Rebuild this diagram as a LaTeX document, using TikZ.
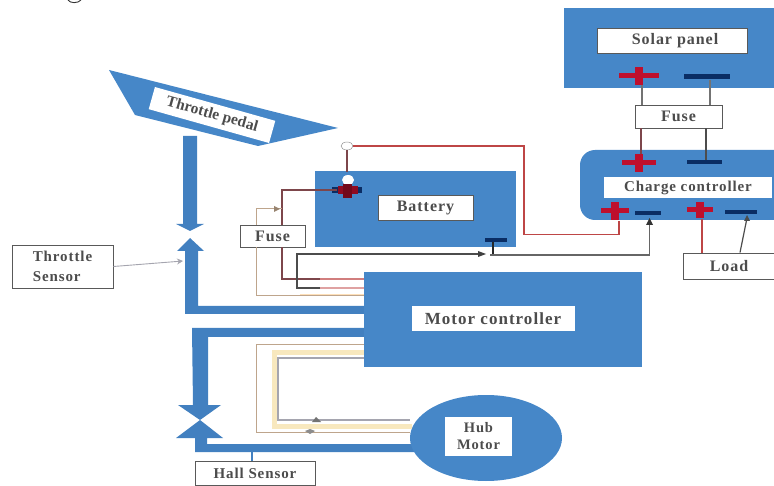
\documentclass[tikz,border=0pt]{standalone}
\usepackage{fontspec}
\setmainfont{Liberation Serif}
\newfontfamily\spacedfont[LetterSpace=6]{Liberation Serif}
\usetikzlibrary{arrows.meta,shapes.geometric}
\definecolor{panelblue}{RGB}{70,135,200}
\definecolor{flowblue}{RGB}{66,128,192}
\definecolor{navy}{RGB}{10,45,100}
\definecolor{wired}{RGB}{190,70,70}
\definecolor{wirebrown}{RGB}{125,70,75}
\definecolor{wiretan}{RGB}{190,165,140}
\definecolor{paleyellow}{RGB}{248,232,190}
\definecolor{wiregray}{RGB}{165,165,175}
\definecolor{plusred}{RGB}{190,15,45}
\newcommand{\lblf}[2]{\spacedfont\bfseries\fontsize{#1}{#2}\selectfont}
\tikzset{
  x=1pt,y=-1pt,
  panel/.style={fill=panelblue,draw=none},
  labelbox/.style={fill=white,draw=black!65,line width=0.9pt,font=\lblf{16}{17},text=black!70,inner sep=0pt},
  wirea/.style={draw=wirebrown,line width=1.3pt},
  wireb/.style={draw=wired,line width=1.1pt},
  wirec/.style={draw=black!70,line width=1.2pt},
  wired2/.style={draw=wiretan,line width=0.9pt},
  flow/.style={fill=flowblue,draw=none},
  thintip/.style={-{Stealth[length=6pt,width=6pt]}}
}
\newcommand{\plusmark}[4]{% x, y, half width, half height
  \fill[plusred] (#1-#3,#2-2.5) rectangle (#1+#3,#2+2.5);
  \fill[plusred] (#1-4,#2-#4) rectangle (#1+4,#2+#4);
}
\begin{document}
\begin{tikzpicture}
\useasboundingbox (0,0) rectangle (774,486);
\clip (0,0) rectangle (774,486);
\fill[white] (0,0) rectangle (774,486);
\draw[black!80,line width=0.9pt] (68,0) .. controls (70,3.5) and (78,3.5) .. (81,0);

% throttle pedal
\fill[panelblue] (109,70) -- (135,115) -- (258,146) -- (338,128) -- cycle;
\node[labelbox,draw=none,minimum width=125pt,minimum height=23pt,rotate=-15.7,font=\rmfamily\bfseries\fontsize{15.5}{16}\selectfont] (pedal) at (212,115) {Throttle pedal};

% big arrows on the left
\fill[flow] (183,136) rectangle (197,224) (176,224) -- (204,224) -- (190,231) -- cycle;
\fill[flow] (190,238) -- (204,251) -- (198,251) -- (198,306) -- (365,306) -- (365,314) -- (185,314) -- (185,251) -- (177,251) -- cycle;
\fill[flow] (365,328) -- (192,328) -- (193,405) -- (178,405) -- (200,420) -- (221,405) -- (208,405) -- (208,337) -- (365,337) -- cycle;
\fill[flow] (200,420) -- (223,438) -- (207,438) -- (207,444) -- (425,444) -- (425,452) -- (195,452) -- (195,438) -- (176,438) -- cycle;

% boxes
\fill[panel] (315,171) rectangle (516,247);
\fill[panel] (364,272) rectangle (642,367);
\fill[panel] (564,8) rectangle (774,88);
\fill[panel,rounded corners=15pt] (580,150) rectangle (790,220);
\fill[panel] (486,438) ellipse [x radius=76pt,y radius=43pt];

\node[labelbox,minimum width=95pt,minimum height=25pt] (battery) at (425.5,207.5) {Battery\hspace{8pt}};
\node[labelbox,minimum width=150pt,minimum height=25pt] (solar) at (672,40.5) {\hspace{6pt}Solar panel};
\node[labelbox,draw=none,minimum width=168pt,minimum height=21pt,font=\lblf{15}{16}] (charge) at (688,187.5) {Charge controller\hspace{16pt}};
\node[labelbox,minimum width=87pt,minimum height=23pt] (fusetop) at (678.5,116.5) {Fuse\hspace{27pt}};
\node[labelbox,minimum width=65pt,minimum height=22pt] (fuseleft) at (272.5,236) {Fuse};
\node[labelbox,minimum width=91pt,minimum height=26pt] (load) at (729,266) {Load};
\node[labelbox,draw=none,minimum width=163pt,minimum height=25pt,font=\lblf{17}{18}] (motor) at (493,319) {Motor controller};
\node[labelbox,draw=none,minimum width=67pt,minimum height=39pt,align=center,font=\lblf{14.5}{17}] (hub) at (478.5,436.5) {Hub\\Motor};
\node[labelbox,minimum width=120pt,minimum height=24pt,font=\lblf{15}{16}] (hall) at (255,473) {Hall Sensor};
\node[labelbox,minimum width=101pt,minimum height=43pt,align=left,font=\lblf{15}{20}] (throttle) at (62.5,266.5) {Throttle\\Sensor};

% solar wiring
\draw[draw=black!55,line width=1.3pt] (642,80) -- (642,0 |- fusetop.north);
\draw[draw=black!55,line width=1.3pt] (710,80) -- (710,0 |- fusetop.north);
\draw[wirea] (641,0 |- fusetop.south) -- (641,160);
\draw[draw=black!70,line width=1.3pt] (706,0 |- fusetop.south) -- (706,160);

% terminals
\plusmark{639}{76}{20}{9}
\fill[navy] (684,74.5) rectangle (730,79.5);
\plusmark{639}{163}{17}{9}
\fill[navy] (687,160.5) rectangle (722,164.5);
\plusmark{615}{211}{14}{9}
\fill[navy] (635,211) rectangle (661,215);
\plusmark{700}{210}{13}{8}
\fill[navy] (725,210) rectangle (757,214);

% battery plus with cap
\fill[white] (348,180) ellipse [x radius=6pt,y radius=5pt];
\fill[navy] (332,187) rectangle (362,193);
\fill[plusred!75!black] (338,186) rectangle (358,194);
\fill[plusred!60!black] (343,184) rectangle (352,198);
\node[draw=black!50,fill=white,ellipse,minimum width=12pt,minimum height=8pt,inner sep=0pt] (cap) at (347,146) {};
\draw[draw=wirebrown,line width=1.2pt] (cap) -- (347,172);
\draw[wireb] (cap) -- (524,146) -- (524,234.5) -- (619,234.5) -- (619,221);

% battery to fuse and motor controller
\draw[wirea] (337,190) -- (282,190) -- (282,0 |- fuseleft.north);
\draw[draw=wiretan,line width=1pt] (282,209) -- (256,209) -- (256,0 |- fuseleft.north);
\fill[wiretan!80!black] (274,206) -- (280,209) -- (274,212) -- cycle;
\draw[wirea] (282,0 |- fuseleft.south) -- (282,279) -- (320,279);
\draw[draw=wired!70,line width=1.3pt] (320,279) -- (364,279);
\draw[draw=paleyellow!60!orange!50,line width=2pt] (300,295) -- (364,295);
\draw[wired2] (256,0 |- fuseleft.south) -- (256,295) -- (364,295);
\draw[draw=wired!50,line width=1.2pt] (320,288) -- (364,288);
\draw[wirec] (320,288) -- (297,288) -- (297,254) -- (484,254);
\fill[black!75] (478,251) -- (486,254) -- (478,257) -- cycle;
\fill[navy] (485,238.5) rectangle (507,242);
\draw[draw=black!85,line width=1.8pt] (493,242) -- (493,255);
\draw[draw=black!60,line width=1.2pt] (490,255) -- (649.5,255) -- (649.5,224);
\fill[black!80] (646,225) -- (649.5,218) -- (653,225) -- cycle;

% charge controller to load
\draw[draw=wired,line width=1.6pt] (702,219) -- (702,0 |- load.north);
\draw[wirec] (747,218) -- (740,0 |- load.north);
\fill[black!70] (744,221) -- (747,215) -- (750,221) -- cycle;

% throttle sensor link
\draw[draw=wiregray,line width=0.9pt,thintip] (throttle.east) -- (183,261);
% hall sensor link
\draw[draw=flowblue,line width=2.5pt] (252,452) -- (252,0 |- hall.north);

% hub motor wiring
\draw[draw=paleyellow,line width=5pt] (364,353) -- (274,353) -- (274,426) -- (412,426);
\draw[wired2] (364,344) -- (256,344) -- (256,432) -- (410,432);
\draw[draw=wiregray,line width=1.2pt] (364,358) -- (278,358) -- (278,420) -- (410,420);
\fill[black!55] (312,422) -- (316,417) -- (321,422) -- cycle;
\fill[black!45] (305,431) -- (310,434) -- (315,431) -- (310,429) -- cycle;
\end{tikzpicture}
\end{document}
